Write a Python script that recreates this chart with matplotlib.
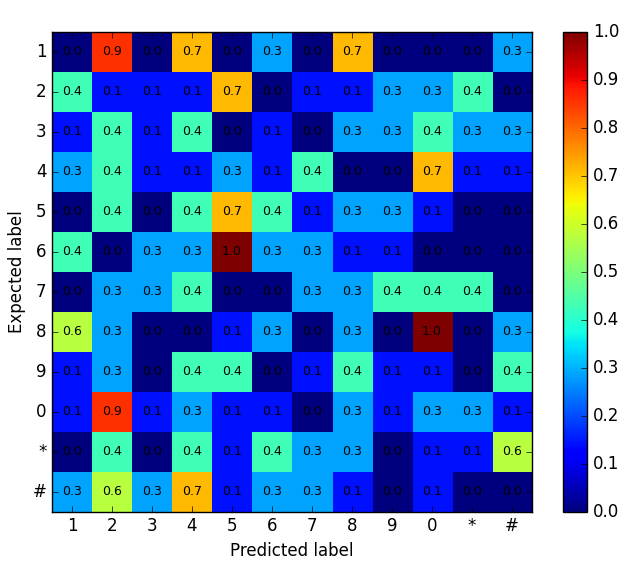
import numpy as np
import matplotlib
matplotlib.use('Agg')
import matplotlib.pyplot as plt

plt.style.use('classic')

# class names on both axes
labels = ['1', '2', '3', '4', '5', '6', '7', '8', '9', '0', '*', '#']

# counts per cell (out of 7), rows = expected, cols = predicted
counts = [
    [0, 6, 0, 5, 0, 2, 0, 5, 0, 0, 0, 2],
    [3, 1, 1, 1, 5, 0, 1, 1, 2, 2, 3, 0],
    [1, 3, 1, 3, 0, 1, 0, 2, 2, 3, 2, 2],
    [2, 3, 1, 1, 2, 1, 3, 0, 0, 5, 1, 1],
    [0, 3, 0, 3, 5, 3, 1, 2, 2, 1, 0, 0],
    [3, 0, 2, 2, 7, 2, 2, 1, 1, 0, 0, 0],
    [0, 2, 2, 3, 0, 0, 2, 2, 3, 3, 3, 0],
    [4, 2, 0, 0, 1, 2, 0, 2, 0, 7, 0, 2],
    [1, 2, 0, 3, 3, 0, 1, 3, 1, 1, 0, 3],
    [1, 6, 1, 2, 1, 1, 0, 2, 1, 2, 2, 1],
    [0, 3, 0, 3, 1, 3, 2, 2, 0, 1, 1, 4],
    [2, 4, 2, 5, 1, 2, 2, 1, 0, 1, 0, 0],
]
cm = np.array(counts, dtype=float) / 7.0

fig = plt.figure(figsize=(6.26, 5.70), dpi=100, facecolor='white')
ax = fig.add_axes([0.083, 0.102, 0.767, 0.842])
cax = fig.add_axes([0.899, 0.102, 0.039, 0.842])

im = ax.imshow(cm, interpolation='nearest', cmap='jet', vmin=0, vmax=1, aspect='auto')

for i in range(cm.shape[0]):
    for j in range(cm.shape[1]):
        ax.text(j, i, '%.1f' % cm[i, j], ha='center', va='center',
                fontsize=9, color='black')

ax.set_xticks(range(len(labels)))
ax.set_yticks(range(len(labels)))
ax.set_xticklabels(labels)
ax.set_yticklabels(labels)
ax.set_xlabel('Predicted label')
ax.set_ylabel('Expected label')

cb = fig.colorbar(im, cax=cax, ticks=np.arange(0, 1.01, 0.1))

fig.savefig('out.png', dpi=100, facecolor='white')
